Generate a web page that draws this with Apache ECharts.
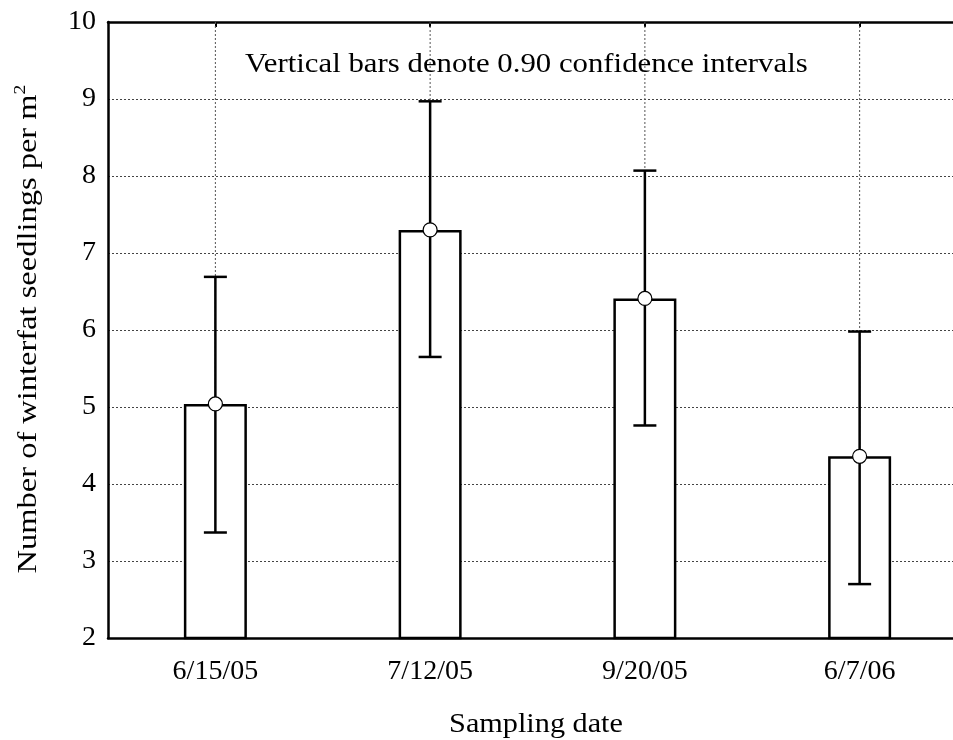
<!DOCTYPE html>
<html>
<head>
<meta charset="utf-8">
<script src="https://cdn.jsdelivr.net/npm/echarts@6/dist/echarts.min.js"></script>
<style>
html,body{margin:0;padding:0;background:#fff;}
#main{width:953px;height:740px;}
</style>
</head>
<body>
<div id="main"></div>
<script>
const categories = ['6/15/05', '7/12/05', '9/20/05', '6/7/06'];
const means = [5.04, 7.30, 6.41, 4.36];
const lower = [3.37, 5.65, 4.76, 2.70];
const upper = [6.69, 8.97, 8.07, 5.98];
const yTicks = [2, 3, 4, 5, 6, 7, 8, 9, 10];
const noteText = 'Vertical bars denote 0.90 confidence intervals';
const xTitle = 'Sampling date';
const yTitle = 'Number of winterfat seedlings per m{sup|2}';

const FONT = '"Liberation Serif", "Times New Roman", serif';

const chart = echarts.init(document.getElementById('main'));

const option = {
  backgroundColor: '#fff',
  animation: false,
  textStyle: { fontFamily: FONT },
  graphic: [{
    type: 'text',
    x: 245,
    y: 65,
    scaleX: 1.1,
    z: 10,
    style: {
      text: noteText,
      font: '28px ' + FONT,
      fill: '#000',
      align: 'left',
      verticalAlign: 'middle'
    }
  }, {
    type: 'text',
    x: 536,
    y: 725,
    scaleX: 1.08,
    z: 10,
    style: {
      text: xTitle,
      font: '28px ' + FONT,
      fill: '#000',
      align: 'center',
      verticalAlign: 'middle'
    }
  }, {
    type: 'text',
    x: 29,
    y: 329,
    rotation: Math.PI / 2,
    scaleX: 1.16,
    z: 10,
    style: {
      text: yTitle,
      font: '28px ' + FONT,
      fill: '#000',
      align: 'center',
      verticalAlign: 'middle',
      rich: {
        sup: { font: '17px ' + FONT, fill: '#000', verticalAlign: 'top', padding: [0, 0, 16, 0] }
      }
    }
  }],
  grid: { left: 108, top: 22, height: 616, width: 859, containLabel: false, outerBoundsMode: 'none' },
  xAxis: [{
    type: 'category',
    data: categories,
    position: 'bottom',
    axisLine: { show: true, lineStyle: { color: '#000', width: 2.5 } },
    axisTick: { show: true, inside: true, alignWithLabel: true, length: 5, lineStyle: { color: '#000', width: 2 } },
    axisLabel: { color: '#000', fontSize: 28, fontFamily: FONT, margin: 20 },
    splitLine: { show: false }
  }, {
    type: 'category',
    data: categories,
    position: 'top',
    axisLine: { show: true, lineStyle: { color: '#000', width: 2.5 } },
    axisTick: { show: true, inside: true, alignWithLabel: true, length: 5, lineStyle: { color: '#000', width: 2 } },
    axisLabel: { show: false },
    splitLine: { show: false }
  }],
  yAxis: {
    type: 'value',
    min: 2,
    max: 10,
    interval: 1,
    axisLine: { show: true, lineStyle: { color: '#000', width: 2.5 } },
    axisTick: { show: false },
    axisLabel: { color: '#000', fontSize: 28, fontFamily: FONT, margin: 12,
      formatter: v => yTicks.includes(v) ? String(v) : '' },
    splitLine: { show: true, lineStyle: { color: '#444', width: 1, type: [2, 2] } }
  },
  series: [{
    type: 'custom',
    name: 'vgrid',
    z: 1,
    silent: true,
    data: categories.map((c, i) => [i]),
    renderItem: function (params, api) {
      const top = api.coord([api.value(0), 10]);
      const bot = api.coord([api.value(0), 2]);
      return {
        type: 'line',
        shape: { x1: top[0], y1: top[1], x2: bot[0], y2: bot[1] },
        style: { stroke: '#555', lineWidth: 1, lineDash: [2, 2] }
      };
    }
  }, {
    type: 'bar',
    name: 'mean',
    z: 2,
    data: means,
    barWidth: 63,
    itemStyle: { color: '#fff', borderColor: '#000', borderWidth: 2.5 }
  }, {
    type: 'custom',
    name: 'ci',
    z: 3,
    data: categories.map((c, i) => [i, lower[i], upper[i]]),
    renderItem: function (params, api) {
      const lo = api.coord([api.value(0), api.value(1)]);
      const hi = api.coord([api.value(0), api.value(2)]);
      const half = 11.5;
      const st = { stroke: '#000', lineWidth: 2.5 };
      return {
        type: 'group',
        children: [
          { type: 'line', shape: { x1: lo[0], y1: lo[1], x2: hi[0], y2: hi[1] }, style: st },
          { type: 'line', shape: { x1: lo[0] - half, y1: lo[1], x2: lo[0] + half, y2: lo[1] }, style: st },
          { type: 'line', shape: { x1: hi[0] - half, y1: hi[1], x2: hi[0] + half, y2: hi[1] }, style: st }
        ]
      };
    }
  }, {
    type: 'scatter',
    name: 'pt',
    z: 4,
    data: means,
    symbol: 'circle',
    symbolSize: 14,
    itemStyle: { color: '#fff', borderColor: '#000', borderWidth: 1.2, opacity: 1 }
  }]
};

chart.setOption(option);
</script>
</body>
</html>
